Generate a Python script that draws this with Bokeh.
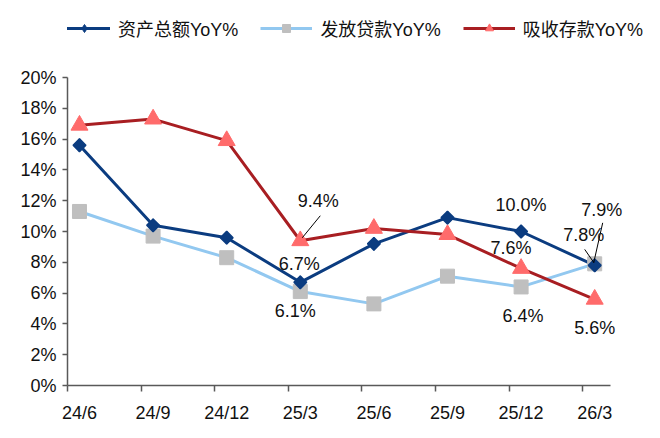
import math
from bokeh.plotting import figure
from bokeh.models import (FixedTicker, PrintfTickFormatter, Range1d, ColumnDataSource,
                          Legend, LegendItem)
from bokeh.core.properties import value
from bokeh.embed import file_html
from bokeh.resources import INLINE

# ---------------- data ----------------
categories = ["24/6", "24/9", "24/12", "25/3", "25/6", "25/9", "25/12", "26/3"]
asset_yoy = [15.6, 10.4, 9.6, 6.7, 9.2, 10.9, 10.0, 7.8]     # 资产总额YoY%
loan_yoy = [11.3, 9.7, 8.3, 6.1, 5.3, 7.1, 6.4, 7.9]        # 发放贷款YoY%
deposit_yoy = [16.9, 17.3, 15.9, 9.4, 10.2, 9.8, 7.6, 5.6]  # 吸收存款YoY%
series_names = ["资产总额YoY%", "发放贷款YoY%", "吸收存款YoY%"]
y_ticks = list(range(0, 21, 2))

# ---------------- styling ----------------
W, H = 660, 438
BL, BR, BT, BB = 67, 0, 0, 53
PPX = 73.6                      # px per category
X0 = -0.163
X_AXIS_END = 7.215
X1 = X0 + (W - BL - BR) / PPX
Y0, Y1 = 0, 25
LAT = "Liberation Sans"
MIX = "Liberation Sans, Noto Sans CJK SC"
AXC = "#595959"
TXT = "#111111"
NAVY = "#0B3C80"

p = figure(width=W, height=H, x_range=Range1d(X0, X1), y_range=Range1d(Y0, Y1),
           output_backend="svg", toolbar_location=None,
           min_border_left=BL, min_border_right=BR, min_border_top=BT, min_border_bottom=BB)
p.outline_line_color = None
p.xgrid.grid_line_color = None
p.ygrid.grid_line_color = None
p.background_fill_color = "white"

# axes
ya = p.yaxis[0]
ya.bounds = (0, 20)
ya.ticker = FixedTicker(ticks=y_ticks)
ya.formatter = PrintfTickFormatter(format="%d%%")
ya.major_tick_out = 5
ya.major_tick_in = 0
ya.minor_tick_out = 0
ya.minor_tick_in = 0
ya.axis_line_color = AXC
ya.axis_line_width = 1.5
ya.major_tick_line_color = AXC
ya.major_tick_line_width = 1.5
ya.major_label_text_font = LAT
ya.major_label_text_font_size = "18px"
ya.major_label_text_color = TXT
ya.major_label_standoff = 6

xa = p.xaxis[0]
xa.bounds = (X0, X_AXIS_END)
xa.ticker = FixedTicker(ticks=list(range(len(categories))),
                        minor_ticks=[k + X0 for k in range(len(categories))])
xa.major_label_overrides = {i: c for i, c in enumerate(categories)}
xa.major_tick_out = 0
xa.major_tick_in = 0
xa.minor_tick_out = 6
xa.minor_tick_in = 0
xa.minor_tick_line_color = AXC
xa.minor_tick_line_width = 1.5
xa.axis_line_color = AXC
xa.axis_line_width = 1.5
xa.major_label_text_font = LAT
xa.major_label_text_font_size = "18px"
xa.major_label_text_color = TXT
xa.major_label_standoff = 11

xs = list(range(len(categories)))
src = ColumnDataSource(dict(x=xs, a=asset_yoy, l=loan_yoy, d=deposit_yoy))

# series
r_a_line = p.line("x", "a", source=src, line_color=NAVY, line_width=3)
r_l_line = p.line("x", "l", source=src, line_color="#92C8F0", line_width=3)
r_d_line = p.line("x", "d", source=src, line_color="#A81E22", line_width=3)
r_l_pt = p.scatter("x", "l", source=src, marker="square", size=14,
                   fill_color="#BFBFBF", line_color="#BFBFBF")
r_d_pt = p.scatter("x", "d", source=src, marker="triangle", size=17,
                   fill_color="#FF6B6B", line_color="#FF6B6B")
# diamond (used as legend swatch; fully covered by the rotated square on top)
r_a_dia = p.scatter("x", "a", source=src, marker="diamond", size=13,
                    fill_color=NAVY, line_color=NAVY)
r_a_pt = p.scatter("x", "a", source=src, marker="square", size=9, angle=math.pi / 4,
                   fill_color=NAVY, line_color=NAVY, line_width=1.5)

# data labels: (series, index, dx px, dy px, leader)
series_vals = {"a": asset_yoy, "l": loan_yoy, "d": deposit_yoy}
ann = [
    ("d", 3, 18, -40, (20, -25, 2, -3)),
    ("a", 3, -1, -18, None),
    ("l", 3, -5, 19, None),
    ("a", 6, 0, -27, None),
    ("d", 6, -10, -20, None),
    ("l", 6, 2, 29, None),
    ("a", 7, -11, -30, (-10, -16, -1, -3)),
    ("l", 7, 7, -54, (8, -41, -1, -1)),
    ("d", 7, 0, 29, None),
]
tx, ty, tt, txo, tyo = [], [], [], [], []
sx0, sy0, sx1, sy1 = [], [], [], []
fh = H - BT - BB
ppy = fh / (Y1 - Y0)
for key, i, dx, dy, lead in ann:
    v = series_vals[key][i]
    tx.append(xs[i]); ty.append(v); tt.append(f"{v:.1f}%")
    txo.append(dx); tyo.append(dy)
    if lead:
        ax, ay, bx, by = lead
        sx0.append(xs[i] + ax / PPX); sy0.append(v - ay / ppy)
        sx1.append(xs[i] + bx / PPX); sy1.append(v - by / ppy)

p.segment(x0=sx0, y0=sy0, x1=sx1, y1=sy1, line_color="black", line_width=1)
tsrc = ColumnDataSource(dict(x=tx, y=ty, t=tt, xo=txo, yo=tyo))
p.text("x", "y", text="t", x_offset="xo", y_offset="yo", source=tsrc,
       text_align="center", text_baseline="middle", text_color=TXT,
       text_font=value(LAT), text_font_size="18px")

legend = Legend(items=[
    LegendItem(label=series_names[0], renderers=[r_a_line, r_a_dia]),
    LegendItem(label=series_names[1], renderers=[r_l_line, r_l_pt]),
    LegendItem(label=series_names[2], renderers=[r_d_line, r_d_pt]),
], orientation="horizontal", location=(-9, 344), glyph_width=52, glyph_height=20,
    label_standoff=8, spacing=22, padding=0, margin=0, border_line_color=None,
    background_fill_alpha=0, label_text_font=MIX, label_text_font_size="18px",
    label_text_color=TXT)
p.add_layout(legend)

open("out.html", "w").write(file_html(p, INLINE))
